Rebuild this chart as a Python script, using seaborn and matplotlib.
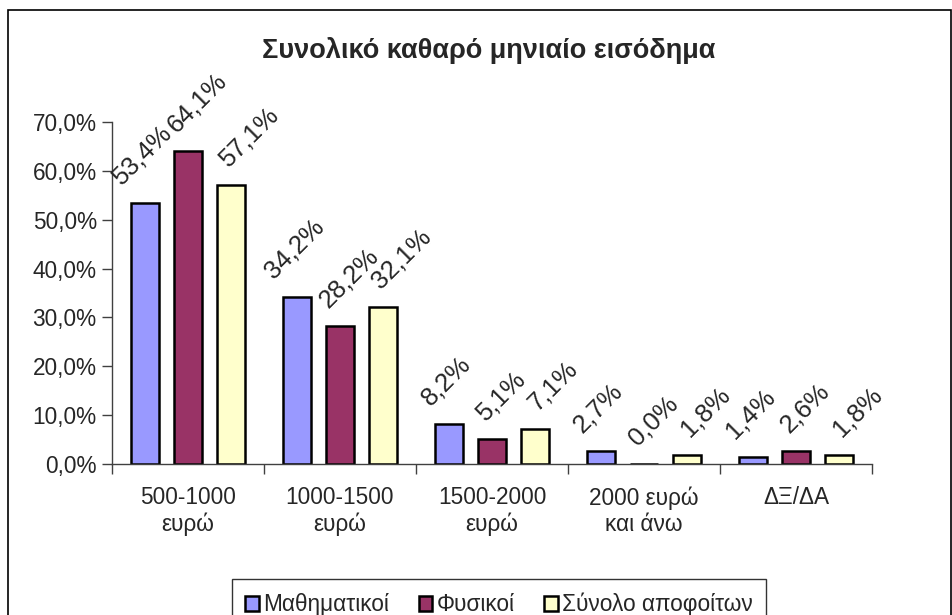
import pandas as pd
import numpy as np
import seaborn as sns
import matplotlib.pyplot as plt
from matplotlib.patches import Rectangle
from matplotlib.ticker import FuncFormatter, FixedLocator

categories = ["500-1000\nευρώ", "1000-1500\nευρώ", "1500-2000\nευρώ", "2000 ευρώ\nκαι άνω", "ΔΞ/ΔΑ"]
series = ["Μαθηματικοί", "Φυσικοί", "Σύνολο αποφοίτων"]
mathimatikoi = [53.4, 34.2, 8.2, 2.7, 1.4]
fysikoi = [64.1, 28.2, 5.1, 0.0, 2.6]
synolo = [57.1, 32.1, 7.1, 1.8, 1.8]
colors = ["#9999FF", "#993366", "#FFFFCC"]

values = [mathimatikoi, fysikoi, synolo]
df = pd.DataFrame({
    "cat": categories * 3,
    "series": np.repeat(series, len(categories)),
    "val": mathimatikoi + fysikoi + synolo,
})

sns.set_style("white")
plt.rcParams["font.family"] = ["Liberation Sans", "DejaVu Sans"]
FS = 16.3     # axis + legend text
LBL = 18.5    # rotated data labels

fig = plt.figure(figsize=(9.53, 6.15), dpi=100)
ax = fig.add_axes([112 / 953, 1 - 464 / 615, 760 / 953, (464 - 122) / 615])

sns.barplot(data=df, x="cat", y="val", hue="series", palette=colors, saturation=1,
            width=0.85, gap=0.35, edgecolor="black", linewidth=1.8, ax=ax)

ax.set_ylim(0, 70)
ax.set_xlim(-0.5, 4.5)
ax.set_yticks(np.arange(0, 71, 10))
ax.yaxis.set_major_formatter(FuncFormatter(lambda y, _: f"{y:.1f}%".replace(".", ",")))
ax.set_xlabel("")
ax.set_ylabel("")

# ticks between categories, labels at centres
ax.xaxis.set_major_locator(FixedLocator(np.arange(-0.5, 5, 1)))
ax.xaxis.set_minor_locator(FixedLocator(np.arange(0, 5, 1)))
ax.set_xticklabels([""] * 6)
ax.set_xticklabels(categories, minor=True)
ax.tick_params(axis="x", which="major", length=7, width=1, color="#404040", direction="out", bottom=True)
ax.tick_params(axis="x", which="minor", length=0, pad=16, labelsize=FS)
ax.tick_params(axis="y", length=7, width=1, color="#404040", direction="out", left=True, labelsize=FS, pad=4)

for s in ["top", "right"]:
    ax.spines[s].set_visible(False)
for s in ["left", "bottom"]:
    ax.spines[s].set_color("#404040")
    ax.spines[s].set_linewidth(1)

# Excel nudges the rotated labels a bit to the right for the later series
shift = [-2, 6.5, 13]
for cont, vals, dx in zip(ax.containers, values, shift):
    for p, v in zip(cont.patches, vals):
        x = p.get_x() + p.get_width() / 2
        ax.annotate(f"{v:.1f}%".replace(".", ","), (x, p.get_height()),
                    xytext=(dx, 10), textcoords="offset points",
                    rotation=45, ha="center", va="bottom", fontsize=LBL)

handles, labels = ax.get_legend_handles_labels()
ax.get_legend().remove()
leg = fig.legend(handles, labels, loc="upper center", ncol=3,
                 bbox_to_anchor=(499 / 953, 1 - 568 / 615), fontsize=FS,
                 frameon=True, fancybox=False, edgecolor="black",
                 handlelength=0.6, handleheight=0.6, handletextpad=0.2,
                 columnspacing=1.3, borderpad=0.6)
leg.get_frame().set_linewidth(1)

fig.text(489 / 953, 1 - 50 / 615, "Συνολικό καθαρό μηνιαίο εισόδημα",
         ha="center", va="center", fontsize=19.5, fontweight="bold")

fig.add_artist(Rectangle((8 / 953, -0.02), 943 / 953, 1.02 - 10 / 615,
                         transform=fig.transFigure, fill=False,
                         edgecolor="black", linewidth=1.2))

fig.savefig("out.png", dpi=100)
